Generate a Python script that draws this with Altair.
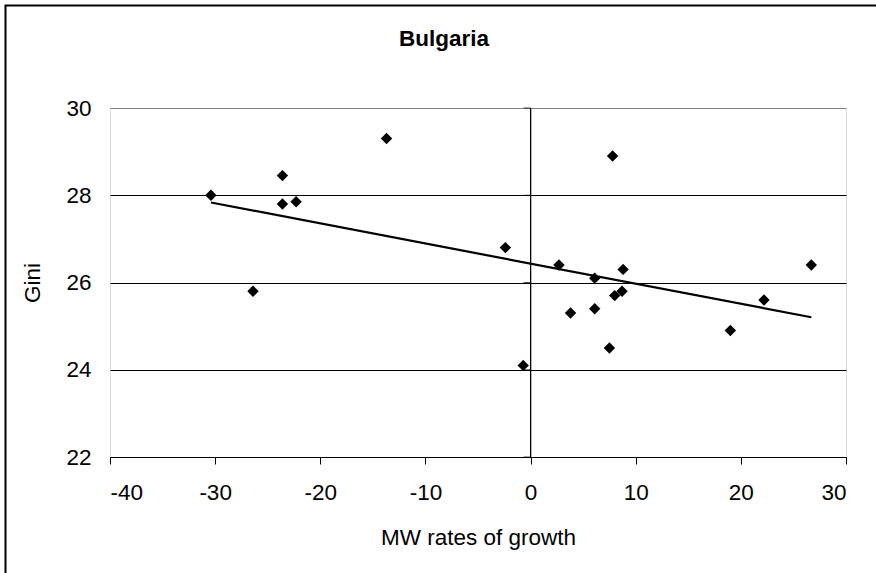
import altair as alt
import pandas as pd

# Data
mw_growth = [-30.4, -26.4, -23.6, -23.6, -22.3, -13.7, -2.4, -0.7, 2.7, 3.8,
             6.1, 6.1, 7.5, 7.8, 8.0, 8.7, 8.8, 19.0, 22.2, 26.7]
gini = [28.0, 25.8, 28.45, 27.8, 27.85, 29.3, 26.8, 24.1, 26.4, 25.3,
        26.1, 25.4, 24.5, 28.9, 25.7, 25.8, 26.3, 24.9, 25.6, 26.4]
x_ticks = [-40, -30, -20, -10, 0, 10, 20, 30]
y_ticks = [22, 24, 26, 28, 30]

FONT = "Liberation Sans"
FS = 22.5
W, H = 736, 349
PAD_L, PAD_T = 110, 108

df = pd.DataFrame({"x": mw_growth, "y": gini})
ytick_df = pd.DataFrame({"y": y_ticks})

xscale = alt.Scale(domain=[-40, 30], nice=False, zero=False)
yscale = alt.Scale(domain=[22, 30], nice=False, zero=False)

xaxis = alt.Axis(
    values=x_ticks, grid=False, tickSize=7, tickColor="black", tickWidth=1,
    domainColor="black", domainWidth=1, labelFontSize=FS, labelPadding=17,
    labelColor="black", labelFont=FONT, labelExpr="'' + datum.value",
    title="MW rates of growth", titleFontSize=FS, titleFontWeight="normal",
    titleFont=FONT, titleColor="black", titleY=80, titleBaseline="middle",
)
yaxis = alt.Axis(
    values=y_ticks, grid=True,
    gridColor={"condition": {"test": "datum.value === 30", "value": "#808080"}, "value": "black"},
    gridWidth=1, tickSize=0, domain=False, labelFontSize=FS, labelPadding=19,
    labelColor="black", labelFont=FONT, labelExpr="'' + datum.value",
    title="Gini", titleFontSize=FS, titleFontWeight="normal", titleFont=FONT,
    titleColor="black", titleX=-78, titleY=H / 2, titleBaseline="middle",
    titleAngle=270,
)

base = alt.Chart(df)

points = base.mark_point(shape="diamond", filled=True, color="black", size=130, opacity=1).encode(
    x=alt.X("x:Q", scale=xscale, axis=xaxis),
    y=alt.Y("y:Q", scale=yscale, axis=yaxis),
)

trend = base.transform_regression("x", "y").mark_line(color="black", strokeWidth=2.2).encode(
    x=alt.X("x:Q", scale=xscale),
    y=alt.Y("y:Q", scale=yscale),
)

zero_rule = alt.Chart(ytick_df).mark_rule(color="black", strokeWidth=1).encode(
    x=alt.datum(0, scale=xscale),
)

zero_ticks = alt.Chart(ytick_df).mark_tick(
    orient="horizontal", size=7, thickness=1, color="black", xOffset=-3.5
).encode(
    x=alt.datum(0, scale=xscale),
    y=alt.Y("y:Q", scale=yscale),
)

border = alt.Chart(pd.DataFrame({"a": [0]})).mark_rect(
    fill="white", fillOpacity=0, stroke="black", strokeWidth=2
).encode(
    x=alt.value(-(PAD_L - 5.5)), x2=alt.value(900),
    y=alt.value(-(PAD_T - 5.5)), y2=alt.value(700),
)

chart = alt.layer(border, zero_rule, zero_ticks, trend, points).properties(
    width=W, height=H,
    autosize=alt.AutoSizeParams(type="none"),
    padding={"left": PAD_L, "top": PAD_T, "right": 876 - PAD_L - W, "bottom": 573 - PAD_T - H},
    title=alt.TitleParams(
        "Bulgaria", fontSize=FS, fontWeight="bold", font=FONT, color="black",
        anchor="middle", frame="group", dx=-34, offset=-46,
    ),
).configure_view(
    stroke="#808080", strokeWidth=1
).configure(background="white")

chart.save("out.html", embed_options={"renderer": "svg", "actions": False})
